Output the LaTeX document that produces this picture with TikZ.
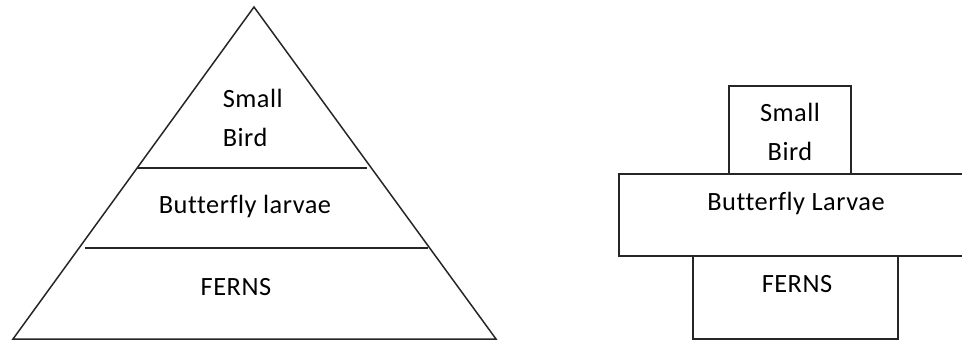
\documentclass[tikz,border=0pt]{standalone}
\usepackage{fontspec}
\setmainfont{Carlito}[Ligatures=NoCommon,LetterSpace=2]
\usetikzlibrary{calc,positioning}

\begin{document}
\begin{tikzpicture}[x=0.02cm,y=-0.02cm,line width=0.85pt,
  lbl/.style={inner sep=0pt,font=\fontsize{15}{22}\selectfont},
  ln/.style={draw=black!85}]
  \clip (0,0) rectangle (962,341);
  % pyramid of numbers
  \coordinate (top) at (254,7);
  \coordinate (bl) at (13,339);
  \coordinate (br) at (496,339);
  \draw[ln] (bl)--(top)--(br)--cycle;
  \coordinate (a1) at (137,168);
  \coordinate (a2) at (367,168);
  \coordinate (b1) at (85,248);
  \coordinate (b2) at (428,248);
  \draw[ln] (a1)--(a2);
  \draw[ln] (b1)--(b2);
  \node[lbl,align=left,anchor=west] (pbird) at (222,118) {Small\\Bird};
  \node[lbl] (plarv) at (245,206) {Butterfly larvae};
  \node[lbl] (pfern) at (236,287) {FERNS};
  % pyramid of biomass
  \draw[ln] (729,86) rectangle (851,174);
  \draw[ln] (966,174) -| (619,256) -- (966,256);
  \draw[ln] (693,256) rectangle (898,339);
  \node[lbl,align=center] (bbird) at (790,132) {Small\\Bird};
  \node[lbl] (blarv) at (796,203) {Butterfly Larvae};
  \node[lbl] (bfern) at (797,284) {FERNS};
\end{tikzpicture}
\end{document}
